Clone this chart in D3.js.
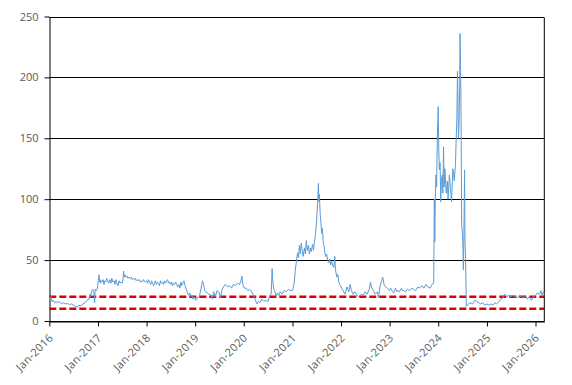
<!DOCTYPE html>
<html><head><meta charset="utf-8">
<script src="https://cdn.jsdelivr.net/npm/d3@7"></script>
<style>body{margin:0;background:#fff}svg{display:block}</style>
</head><body>
<script>
// [date, value], grouped by year
const s2016 = [["2016-01-01",19],["2016-01-08",17],["2016-01-15",20],["2016-01-22",16],["2016-02-01",17],["2016-02-10",15],["2016-02-20",16],["2016-03-01",15],["2016-03-15",16],["2016-04-01",14],["2016-04-15",15],["2016-05-01",14],["2016-05-15",14.5],["2016-06-01",13.5],["2016-06-15",14],["2016-07-01",13],["2016-07-15",12],["2016-08-01",11.5],["2016-08-10",13],["2016-08-25",12.5],["2016-09-10",14],["2016-09-25",15],["2016-10-10",17],["2016-10-25",18],["2016-11-01",22],["2016-11-05",20],["2016-11-15",25],["2016-11-22",26],["2016-12-01",24],["2016-12-07",15],["2016-12-10",26],["2016-12-20",25],["2016-12-28",27]];
const s2017 = [["2017-01-03",33],["2017-01-06",36],["2017-01-09",38],["2017-01-12",32],["2017-01-16",34],["2017-01-20",31],["2017-01-25",33],["2017-02-01",32],["2017-02-08",34],["2017-02-15",30],["2017-02-22",33],["2017-03-01",32],["2017-03-08",35],["2017-03-15",33],["2017-03-22",31],["2017-04-01",34],["2017-04-08",31],["2017-04-15",35],["2017-04-22",32],["2017-05-01",33],["2017-05-08",30],["2017-05-15",34],["2017-05-22",31],["2017-06-01",29],["2017-06-08",33],["2017-06-15",31],["2017-06-22",32],["2017-07-01",31],["2017-07-08",34],["2017-07-12",41],["2017-07-16",36],["2017-07-22",38],["2017-08-01",36],["2017-08-08",37],["2017-08-15",35],["2017-08-22",36],["2017-09-01",35],["2017-09-08",36],["2017-09-15",34],["2017-09-22",35],["2017-10-01",34],["2017-10-08",35],["2017-10-15",33],["2017-10-22",34],["2017-11-01",33],["2017-11-08",34],["2017-11-15",32],["2017-11-22",33],["2017-12-01",32],["2017-12-08",34],["2017-12-15",33],["2017-12-22",32]];
const s2018 = [["2018-01-01",33],["2018-01-08",31],["2018-01-15",34],["2018-01-22",32],["2018-02-01",30],["2018-02-08",33],["2018-02-15",31],["2018-02-22",29],["2018-03-01",31],["2018-03-08",33],["2018-03-15",30],["2018-03-22",32],["2018-04-01",31],["2018-04-08",29],["2018-04-15",33],["2018-04-22",31],["2018-05-01",32],["2018-05-08",30],["2018-05-15",33],["2018-05-22",31],["2018-06-01",33],["2018-06-08",34],["2018-06-15",31],["2018-06-22",32],["2018-07-01",30],["2018-07-08",32],["2018-07-15",29],["2018-07-22",31],["2018-08-01",30],["2018-08-08",32],["2018-08-15",30],["2018-08-22",28],["2018-09-01",30],["2018-09-08",27],["2018-09-15",32],["2018-09-22",29],["2018-10-01",31],["2018-10-08",33],["2018-10-15",30],["2018-10-22",27],["2018-11-01",24],["2018-11-08",22],["2018-11-15",21],["2018-11-22",23],["2018-12-01",20],["2018-12-08",21],["2018-12-15",18],["2018-12-22",20],["2018-12-28",19]];
const s2019 = [["2019-01-05",17],["2019-01-15",19],["2019-02-01",20],["2019-02-15",27],["2019-02-25",33],["2019-03-05",30],["2019-03-15",25],["2019-04-01",23],["2019-04-15",22],["2019-05-01",21],["2019-05-10",18],["2019-05-20",24],["2019-06-01",20],["2019-06-15",25],["2019-07-01",23],["2019-07-10",19],["2019-07-20",25],["2019-08-01",28],["2019-08-15",30],["2019-09-01",28],["2019-09-15",29],["2019-10-01",27],["2019-10-15",30],["2019-11-01",29],["2019-11-15",31],["2019-12-01",30],["2019-12-10",33],["2019-12-18",37],["2019-12-25",30]];
const s2020 = [["2020-01-05",27],["2020-01-20",27],["2020-02-01",25],["2020-02-15",26],["2020-03-01",24],["2020-03-15",21],["2020-04-01",16],["2020-04-10",14],["2020-04-20",16],["2020-05-01",15],["2020-05-15",18],["2020-06-01",16],["2020-06-15",17],["2020-07-01",16],["2020-07-15",21],["2020-07-25",22],["2020-08-01",43],["2020-08-05",34],["2020-08-12",27],["2020-08-20",25],["2020-09-01",20],["2020-09-10",23],["2020-09-20",21],["2020-10-01",24],["2020-10-15",22],["2020-11-01",25],["2020-11-15",24],["2020-12-01",26],["2020-12-15",25]];
const s2021 = [["2021-01-01",25],["2021-01-08",28],["2021-01-15",32],["2021-01-22",42],["2021-02-01",50],["2021-02-08",56],["2021-02-15",52],["2021-02-22",62],["2021-03-01",55],["2021-03-08",64],["2021-03-15",58],["2021-03-22",53],["2021-04-01",60],["2021-04-08",55],["2021-04-15",66],["2021-04-22",58],["2021-05-01",62],["2021-05-08",55],["2021-05-15",60],["2021-05-22",57],["2021-06-01",63],["2021-06-08",58],["2021-06-15",65],["2021-06-22",70],["2021-07-01",82],["2021-07-08",95],["2021-07-12",105],["2021-07-15",113],["2021-07-18",98],["2021-07-22",104],["2021-07-28",88],["2021-08-03",80],["2021-08-08",72],["2021-08-14",76],["2021-08-20",64],["2021-08-26",62],["2021-09-01",56],["2021-09-08",53],["2021-09-15",55],["2021-09-22",50],["2021-10-01",48],["2021-10-08",51],["2021-10-15",46],["2021-10-22",49],["2021-11-01",45],["2021-11-08",44],["2021-11-15",53],["2021-11-20",42],["2021-12-01",36],["2021-12-08",38],["2021-12-15",32],["2021-12-22",30]];
const s2022 = [["2022-01-01",28],["2022-01-15",25],["2022-02-01",22],["2022-02-15",28],["2022-03-01",24],["2022-03-10",30],["2022-03-20",25],["2022-04-01",22],["2022-04-15",24],["2022-05-01",21],["2022-05-15",20],["2022-06-01",22],["2022-06-15",21],["2022-07-01",24],["2022-07-15",22],["2022-08-01",26],["2022-08-10",32],["2022-08-20",27],["2022-09-01",25],["2022-09-15",22],["2022-10-01",24],["2022-10-10",19],["2022-10-20",28],["2022-11-01",33],["2022-11-10",36],["2022-11-20",30],["2022-12-01",28],["2022-12-15",27]];
const s2023 = [["2023-01-01",25],["2023-01-08",27],["2023-01-15",26],["2023-01-22",24],["2023-02-01",23],["2023-02-08",26],["2023-02-15",27],["2023-02-22",24],["2023-03-01",25],["2023-03-15",24],["2023-04-01",27],["2023-04-08",25],["2023-04-15",25],["2023-05-01",24],["2023-05-15",26],["2023-06-01",25],["2023-06-15",27],["2023-07-01",26],["2023-07-15",25],["2023-08-01",28],["2023-08-15",27],["2023-09-01",29],["2023-09-15",27],["2023-10-01",30],["2023-10-15",28],["2023-11-01",27],["2023-11-15",30],["2023-11-28",31],["2023-12-01",70],["2023-12-03",100],["2023-12-06",65],["2023-12-10",100],["2023-12-15",120],["2023-12-20",110],["2023-12-25",150]];
const s2024 = [["2024-01-01",176],["2024-01-05",140],["2024-01-10",124],["2024-01-15",130],["2024-01-20",98],["2024-01-25",115],["2024-02-01",120],["2024-02-05",105],["2024-02-10",143],["2024-02-15",110],["2024-02-20",125],["2024-03-01",105],["2024-03-10",115],["2024-03-15",100],["2024-03-25",120],["2024-04-01",110],["2024-04-10",98],["2024-04-20",125],["2024-05-01",115],["2024-05-10",130],["2024-05-15",150],["2024-05-20",165],["2024-05-25",205],["2024-06-01",150],["2024-06-05",160],["2024-06-10",190],["2024-06-13",236],["2024-06-17",205],["2024-06-20",180],["2024-06-25",80],["2024-07-01",72],["2024-07-05",60],["2024-07-08",42],["2024-07-12",70],["2024-07-17",124],["2024-07-20",65],["2024-07-25",50],["2024-07-30",12],["2024-08-05",13],["2024-08-15",14],["2024-09-01",15],["2024-09-15",14],["2024-10-01",17],["2024-10-15",16],["2024-11-01",15],["2024-11-15",14],["2024-12-01",15],["2024-12-15",13]];
const s2025 = [["2025-01-01",14],["2025-01-15",13],["2025-02-01",14],["2025-02-15",13],["2025-03-01",15],["2025-03-15",14],["2025-04-01",16],["2025-04-15",18],["2025-05-01",19],["2025-05-15",22],["2025-06-01",20],["2025-06-15",21],["2025-07-01",20],["2025-07-15",21],["2025-08-01",20],["2025-08-15",19],["2025-09-01",21],["2025-09-15",20],["2025-10-01",19],["2025-10-15",21],["2025-11-01",18],["2025-11-15",20],["2025-12-01",17],["2025-12-15",20]];
const s2026 = [["2026-01-01",21],["2026-01-15",23],["2026-02-01",22],["2026-02-10",25],["2026-02-20",21],["2026-03-01",24],["2026-03-07",22]];

const yTicks = [0,50,100,150,200,250];
const xTickYears = [2016,2017,2018,2019,2020,2021,2022,2023,2024,2025,2026];
const refLines = [20,10];

const W = 572, H = 385;
const m = {l:49.3, r:W-544.3, t:16.5, b:H-321};
const parse = d3.timeParse("%Y-%m-%d");
const data = [].concat(s2016,s2017,s2018,s2019,s2020,s2021,s2022,s2023,s2024,s2025,s2026)
  .map(([d,v])=>({date:parse(d), v}));

const svg = d3.select("body").append("svg").attr("width",W).attr("height",H);
const x = d3.scaleTime().domain([new Date(2016,0,1), new Date(2026,2,8)]).range([m.l, W-m.r]);
const y = d3.scaleLinear().domain([0,250]).range([H-m.b, m.t]);

// gridlines
svg.append("g").selectAll("line").data(yTicks).join("line")
  .attr("x1",m.l).attr("x2",W-m.r).attr("y1",d=>Math.round(y(d))+0.5).attr("y2",d=>Math.round(y(d))+0.5)
  .attr("stroke","#000").attr("stroke-width",1);
// right border
svg.append("line").attr("x1",W-m.r).attr("x2",W-m.r).attr("y1",Math.round(y(250))+0.5).attr("y2",Math.round(y(0))+0.5)
  .attr("stroke","#000");

// y axis
const ya = svg.append("g").attr("transform",`translate(${Math.round(m.l)+0.5},0)`)
  .call(d3.axisLeft(y).tickValues(yTicks).tickSize(5).tickSizeOuter(0).tickPadding(6));
ya.select(".domain").attr("stroke","#000");
ya.selectAll(".tick line").attr("stroke","#000");
ya.selectAll("text").attr("fill","#595959").style("font-family","Open Sans, sans-serif").style("font-size","11px");

// x axis
const xa = svg.append("g").attr("transform",`translate(0,${Math.round(y(0))+0.5})`)
  .call(d3.axisBottom(x).tickValues(xTickYears.map(yr=>new Date(yr,0,1))).tickSize(5).tickSizeOuter(0).tickFormat(d3.timeFormat("%b-%Y")));
xa.select(".domain").attr("stroke","#000");
xa.selectAll(".tick line").attr("stroke","#000");
xa.selectAll("text").attr("fill","#595959").style("font-family","Open Sans, sans-serif").style("font-size","11px")
  .style("letter-spacing","0.3px")
  .attr("text-anchor","end").attr("dy",null).attr("y",null)
  .attr("transform","translate(4,17) rotate(-45)");

// reference lines
svg.append("g").selectAll("line").data(refLines).join("line")
  .attr("x1",m.l).attr("x2",W-m.r).attr("y1",d=>y(d)).attr("y2",d=>y(d))
  .attr("stroke","#e00000").attr("stroke-width",2.5).attr("stroke-dasharray","7,3");

// series
svg.append("path").datum(data)
  .attr("fill","none").attr("stroke","#5b9bd5").attr("stroke-width",1)
  .attr("d", d3.line().x(d=>x(d.date)).y(d=>y(d.v)));
</script>
</body></html>
